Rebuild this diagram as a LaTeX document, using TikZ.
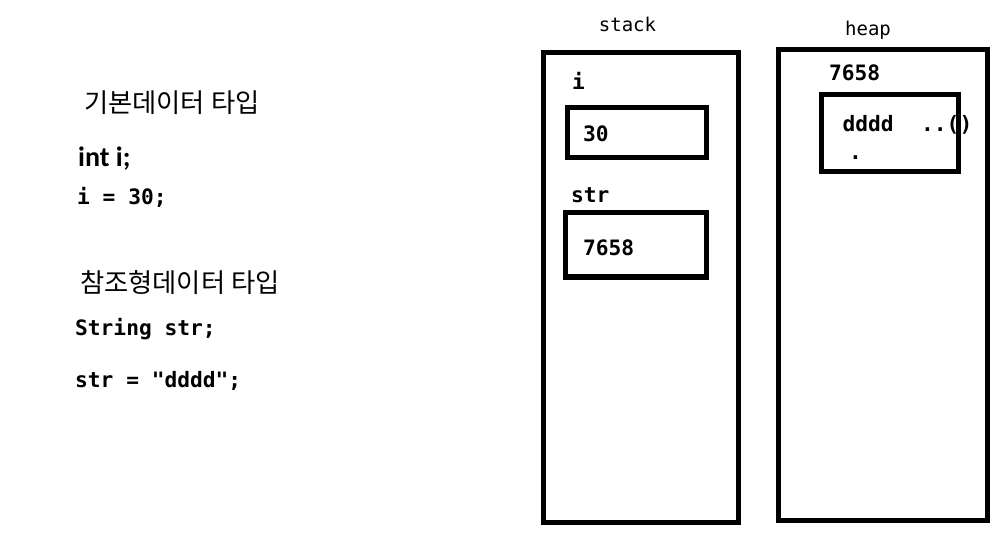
\documentclass[tikz,border=0pt]{standalone}
\usepackage{fontspec}
\newfontfamily\monof{DejaVu Sans Mono}
\newfontfamily\calib{Carlito}
\newfontfamily\kor{Noto Sans CJK KR}
\begin{document}
\begin{tikzpicture}[x=1pt,y=-1pt,
  frame/.style={draw=black,line width=5pt},
  code/.style={inner sep=0pt,anchor=base west,font=\monof\bfseries\fontsize{21.2}{24}\selectfont},
  plain/.style={inner sep=0pt,anchor=base,font=\monof\fontsize{19}{22}\selectfont},
  korean/.style={inner sep=0pt,anchor=west,font=\kor\fontsize{26.3}{29}\selectfont}]
\useasboundingbox (0,0) rectangle (1006,545);
% stack
\draw[frame] (543.5,52.5) rectangle (738,522);
\draw[frame] (567.5,107.5) rectangle (706.5,158);
\draw[frame] (565.5,212.5) rectangle (706.5,277);
\node[plain] (stacklbl) at (627.5,32) {stack};
\node[code] (si) at (572,90) {i};
\node[code] (s30) at (583,142) {30};
\node[code] (sstr) at (571,203) {str};
\node[code] (s7658) at (583,255) {7658};
% heap
\draw[frame] (778.5,50) rectangle (987.5,520.5);
\draw[frame] (821.7,94.7) rectangle (958,172);
\node[plain] (heaplbl) at (868,36) {heap};
\node[code] (h7658) at (829,81) {7658};
\node[code] (hd) at (842.5,131.5) {dddd};
\node[code] (hdots) at (921,131.5) {..()};
\node[code] (hdot) at (849,160) {.};
% left text
\node[korean] (k1) at (84,103) {기본데이터 타입};
\node[inner sep=0pt,anchor=base west,font=\calib\bfseries\fontsize{28}{32}\selectfont] (c1) at (78,167) {int i;};
\node[code] (c2) at (77,204.5) {i = 30;};
\node[korean] (k2) at (80,283) {참조형데이터 타입};
\node[code] (c3) at (75,335) {String str;};
\node[code] (c4) at (75,387) {str = "dddd";};
\end{tikzpicture}
\end{document}
